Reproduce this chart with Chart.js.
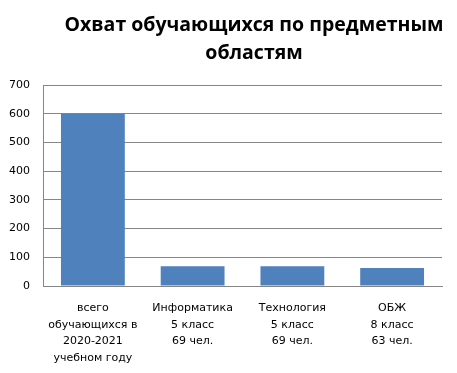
<!DOCTYPE html>
<html>
<head>
<meta charset="utf-8">
<script src="https://cdn.jsdelivr.net/npm/chart.js@4"></script>
<style>
  html, body { margin: 0; padding: 0; background: #fff; }
  #wrap { width: 457px; height: 373px; }
</style>
</head>
<body>
<div id="wrap"><canvas id="coverageChart" width="457" height="373"></canvas></div>
<script>
const titleLines = ["Охват обучающихся по предметным", "областям"];
const categories = [
    ["всего", "обучающихся в", "2020-2021", "учебном году"],
    ["Информатика", "5 класс", "69 чел."],
    ["Технология", "5 класс", "69 чел."],
    ["ОБЖ", "8 класс", "63 чел."]
];
const students = [600, 69, 69, 63];
const yTicks = [0, 100, 200, 300, 400, 500, 600, 700];

const axisGray = "#868686";

// title is drawn by hand so it can sit a bit right of centre, like the original
const titlePlugin = {
    id: "offsetTitle",
    afterDraw(chart) {
        const ctx = chart.ctx;
        ctx.save();
        ctx.font = "bold 19.5px 'Open Sans'";
        ctx.fillStyle = "#000";
        ctx.textAlign = "center";
        ctx.textBaseline = "middle";
        titleLines.forEach((line, i) => {
            ctx.fillText(line, 254, 25 + i * 28);
        });
        ctx.restore();
    }
};

new Chart(document.getElementById("coverageChart"), {
    type: "bar",
    data: {
        labels: categories,
        datasets: [{
            label: "Охват",
            data: students,
            backgroundColor: "#4F81BD",
            borderWidth: 0,
            categoryPercentage: 1,
            barPercentage: 0.64
        }]
    },
    options: {
        responsive: false,
        animation: false,
        layout: { padding: { top: 85, right: 15, left: 0, bottom: 0 } },
        plugins: {
            legend: { display: false },
            tooltip: { enabled: false }
        },
        scales: {
            x: {
                grid: { display: false, drawTicks: false },
                border: { color: axisGray, width: 1 },
                ticks: {
                    color: "#000",
                    padding: 14,
                    maxRotation: 0,
                    autoSkip: false,
                    font: { family: "DejaVu Sans", size: 11, lineHeight: 1.5 }
                },
                afterFit: s => { s.height = 87; }
            },
            y: {
                min: 0,
                max: 700,
                afterBuildTicks: s => { s.ticks = yTicks.map(v => ({ value: v })); },
                grid: { color: axisGray, drawTicks: false },
                border: { color: axisGray, width: 1 },
                ticks: {
                    color: "#000",
                    padding: 13,
                    font: { family: "DejaVu Sans", size: 11 }
                },
                afterFit: s => { s.width = 43; }
            }
        }
    },
    plugins: [titlePlugin]
});
</script>
</body>
</html>
